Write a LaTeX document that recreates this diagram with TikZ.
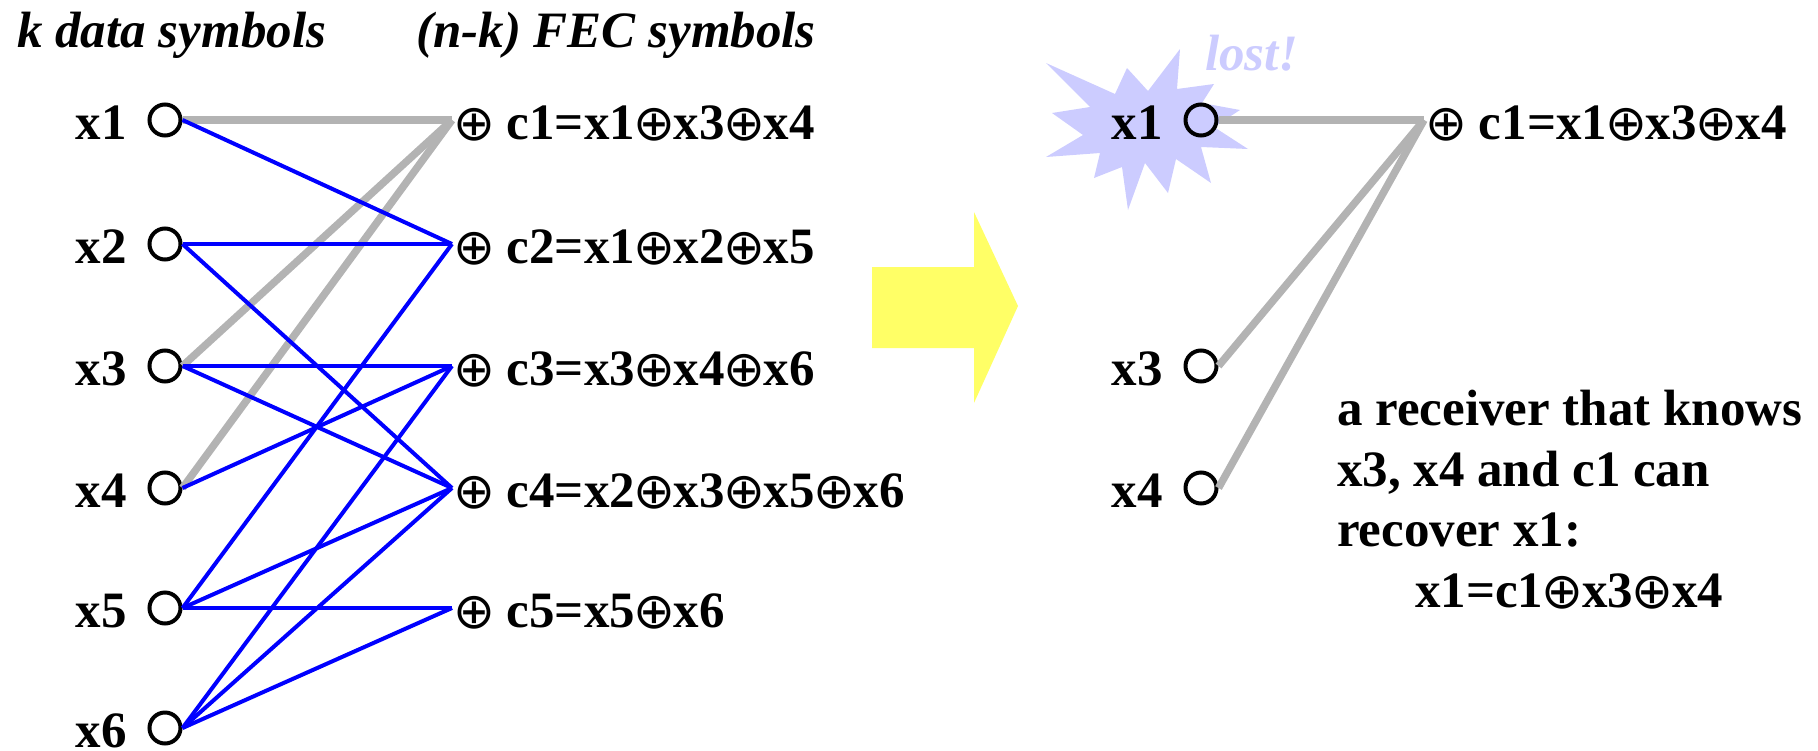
\documentclass[tikz,border=0pt]{standalone}
\usepackage{fontspec}
\setmainfont{Liberation Serif}
\newfontfamily\dvsans{DejaVu Sans}
\usetikzlibrary{shapes.geometric}
\definecolor{edgegray}{HTML}{B3B3B3}
\definecolor{lostc}{HTML}{CCCCFF}
\definecolor{arrowy}{HTML}{FFFF66}
\newcommand\xo{\kern-1.5pt\lower1.5pt\hbox{\dvsans\mdseries\fontsize{50}{54}\selectfont ⊕}\kern-1.5pt}
\begin{document}
\begin{tikzpicture}[x=1pt,y=-1pt,
  every node/.style={inner sep=0pt, font=\fontsize{51}{61}\selectfont\bfseries},
  dat/.style={draw, circle, minimum size=31pt, line width=4pt},
  lab/.style={anchor=base east},
  chk/.style={anchor=base west},
  ttl/.style={anchor=base west, font=\fontsize{51}{61}\selectfont\bfseries\itshape},
  txt/.style={anchor=base west},
  gl/.style={edgegray, line width=7.5pt},
  bl/.style={blue, line width=4pt}]
\useasboundingbox (0,0) rectangle (1818,750);
% titles
\node[ttl] (t1) at (17,47) {k data symbols};
\node[ttl] (t2) at (416,47) {(n-k) FEC symbols};
% data symbols
\foreach \i/\y in {1/120,2/244,3/366,4/488,5/608,6/728}{
  \coordinate (p\i) at (165,\y);
  \node[lab] (x\i l) at (127,\y+19) {x\i};
}
% FEC symbols
\foreach \i/\y in {1/120,2/244,3/366,4/488,5/608}{
  \coordinate (c\i) at (452,\y);
}
\node[chk] (c1t) at (455,139) {\xo{} c1=x1\xo x3\xo x4};
\node[chk] (c2t) at (455,263) {\xo{} c2=x1\xo x2\xo x5};
\node[chk] (c3t) at (455,385) {\xo{} c3=x3\xo x4\xo x6};
\node[chk] (c4t) at (455,507) {\xo{} c4=x2\xo x3\xo x5\xo x6};
\node[chk] (c5t) at (455,627) {\xo{} c5=x5\xo x6};
% circles and edges
\foreach \i in {1,...,6}{
  \node[dat] (x\i) at (p\i) {};
}
\draw[gl] (x1.east) -- (c1);
\draw[gl] (x3.east) -- (c1);
\draw[gl] (x4.east) -- (c1);
\foreach \a/\b in {1/2,2/2,5/2,3/3,4/3,6/3,2/4,3/4,5/4,6/4,5/5,6/5}{
  \draw[bl] (x\a.east) -- (c\b);
}
% arrow
\fill[arrowy] (872,267) -- (974,267) -- (974,212) -- (1018,306) -- (974,403) -- (974,348) -- (872,348) -- cycle;
% starburst
\fill[lostc] (1046,63) -- (1115,94) -- (1127,68) -- (1148,91) -- (1180,49) -- (1177,89) -- (1214,84) -- (1202,103) -- (1240,110) -- (1214,127) -- (1248,149) -- (1201,147) -- (1211,183) -- (1176,159) -- (1168,193) -- (1145,163) -- (1128,210) -- (1122,167) -- (1094,178) -- (1100,153) -- (1046,157) -- (1083,135) -- (1052,113) -- (1090,107) -- cycle;
\node[ttl, text=lostc] (lost) at (1205,70) {lost!};
% right side
\foreach \i/\y in {1/120,3/366,4/488}{
  \node[dat] (r\i) at (1201,\y) {};
  \node[lab] (r\i l) at (1163,\y+19) {x\i};
}
\coordinate (rc1) at (1424,120);
\node[chk] (rc1t) at (1427,139) {\xo{} c1=x1\xo x3\xo x4};
\draw[gl] (r1.east) -- (rc1);
\draw[gl] (r3.east) -- (rc1);
\draw[gl] (r4.east) -- (rc1);
\node[txt] (m1) at (1337,425) {a receiver that knows};
\node[txt] (m2) at (1337,486) {x3, x4 and c1 can};
\node[txt] (m3) at (1337,546) {recover x1:};
\node[txt] (m4) at (1415,607) {x1=c1\xo x3\xo x4};
\end{tikzpicture}
\end{document}
